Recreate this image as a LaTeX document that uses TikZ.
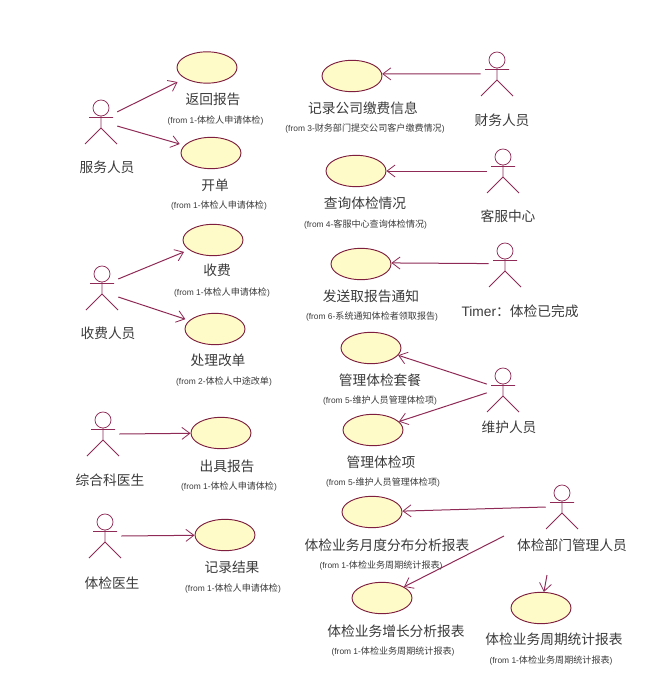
\documentclass[tikz,border=0pt]{standalone}
\usepackage{fontspec}
\setmainfont{Liberation Sans}
\newfontfamily\cjk{Noto Sans CJK SC}
\usetikzlibrary{shapes.geometric,arrows.meta}
\definecolor{umlline}{HTML}{8E2A55}
\definecolor{umledge}{HTML}{7E1F3F}
\definecolor{umlfill}{HTML}{FFFBC8}
\definecolor{labgray}{HTML}{3A3A3A}
\tikzset{
 usecase/.style={ellipse,draw=umledge,fill=umlfill,line width=0.7pt,minimum width=45pt,minimum height=23.5pt,inner sep=0pt},
 actorbox/.style={rectangle,minimum width=24pt,minimum height=33pt,inner sep=0pt},
 actorline/.style={draw=umlline,line width=0.55pt},
 conn/.style={draw=umlline,line width=0.75pt,-{Straight Barb[length=6pt,width=9pt,line width=0.6pt]}},
 biglab/.style={text=labgray,font=\fontsize{10.3}{12}\selectfont\cjk,inner sep=0pt},
 smalllab/.style={text=labgray,font=\fontsize{6.3}{7.5}\selectfont,inner sep=0pt},
}
\newcommand{\umlactor}[3]{%
 \node[actorbox] (#1) at (#2,#3+14) {};
 \begin{scope}[shift={(#2,#3)}]
  \draw[actorline] (0,0) circle[radius=8];
  \draw[actorline] (0,8) -- (0,20) (-12,9.5) -- (12,9.5) (-16,36) -- (0,20) -- (16,36);
 \end{scope}}
\newcommand{\frm}[2]{(from #1-{\cjk\fontsize{6.8}{7.5}\selectfont #2})}
\begin{document}
\begin{tikzpicture}[x=0.75pt,y=-0.75pt]
\useasboundingbox (0,0) rectangle (657,688);
% use cases
\node[usecase] (u1) at (207,67.5) {};
\node[usecase] (u2) at (211,153) {};
\node[usecase] (u3) at (213,240) {};
\node[usecase] (u4) at (215,329) {};
\node[usecase] (u5) at (221,433) {};
\node[usecase] (u6) at (225,535) {};
\node[usecase] (u7) at (352,76) {};
\node[usecase] (u8) at (356,171) {};
\node[usecase] (u9) at (361,264) {};
\node[usecase] (u10) at (371,348) {};
\node[usecase] (u11) at (373,430) {};
\node[usecase] (u12) at (372,512) {};
\node[usecase] (u13) at (382,598) {};
\node[usecase] (u14) at (541,608) {};
% actors
\umlactor{a1}{101}{108}
\umlactor{a2}{102}{274}
\umlactor{a3}{103}{420}
\umlactor{a4}{105}{522}
\umlactor{a5}{497}{60}
\umlactor{a6}{503}{157}
\umlactor{a7}{505}{251}
\umlactor{a8}{503}{376}
\umlactor{a9}{562}{493}
\coordinate (s1) at (504,536);
\coordinate (s2) at (547,575);
% connectors
\draw[conn,shorten >=6pt] (a1.32) -- (u1);
\draw[conn,shorten >=3.5pt] (a1.-14) -- (u2);
\draw[conn,shorten >=4pt] (a2.29) -- (u3);
\draw[conn,shorten >=3pt] (a2.-29) -- (u4);
\draw[conn] (a3.east) -- (u5);
\draw[conn] (a4.east) -- (u6);
\draw[conn] (a5.west) -- (u7.4);
\draw[conn] (a6.west) -- (u8);
\draw[conn] (a7.175) -- (u9.2);
\draw[conn] (a8.160) -- (u10.-15);
\draw[conn] (a8.190) -- (u11.18);
\draw[conn] (a9.west) -- (u12);
\draw[conn] (s1) -- (u13);
\draw[conn] (s2) -- (u14);
% actor labels
\node[biglab] (n1) at (107,167) {服务人员};
\node[biglab] (n2) at (108,333) {收费人员};
\node[biglab] (n3) at (110,480) {综合科医生};
\node[biglab] (n4) at (112,583) {体检医生};
\node[biglab] (n5) at (502,120) {财务人员};
\node[biglab] (n6) at (508,216) {客服中心};
\node[biglab] (n7) at (520,311) {{\rmfamily\fontspec{Liberation Sans}Timer}：体检已完成};
\node[biglab] (n8) at (509,427) {维护人员};
\node[biglab] (n9) at (572,545) {体检部门管理人员};
% use case labels
\node[biglab] (l1) at (213,99) {返回报告};
\node[smalllab] (f1) at (215.5,121) {\frm{1}{体检人申请体检}};
\node[biglab] (l2) at (215,185) {开单};
\node[smalllab] (f2) at (219,206) {\frm{1}{体检人申请体检}};
\node[biglab] (l3) at (217,270) {收费};
\node[smalllab] (f3) at (222,293) {\frm{1}{体检人申请体检}};
\node[biglab] (l4) at (218,360) {处理改单};
\node[smalllab] (f4) at (224,382) {\frm{2}{体检人中途改单}};
\node[biglab] (l5) at (227,466) {出具报告};
\node[smalllab] (f5) at (229,487) {\frm{1}{体检人申请体检}};
\node[biglab] (l6) at (232,567) {记录结果};
\node[smalllab] (f6) at (233,589) {\frm{1}{体检人申请体检}};
\node[biglab] (l7) at (363,108) {记录公司缴费信息};
\node[smalllab] (f7) at (365,129) {\frm{3}{财务部门提交公司客户缴费情况}};
\node[biglab] (l8) at (365,203) {查询体检情况};
\node[smalllab] (f8) at (365.5,225) {\frm{4}{客服中心查询体检情况}};
\node[biglab] (l9) at (371,296) {发送取报告通知};
\node[smalllab] (f9) at (372,317) {\frm{6}{系统通知体检者领取报告}};
\node[biglab] (l10) at (380,380) {管理体检套餐};
\node[smalllab] (f10) at (380,401) {\frm{5}{维护人员管理体检项}};
\node[biglab] (l11) at (381,462) {管理体检项};
\node[smalllab] (f11) at (383,483) {\frm{5}{维护人员管理体检项}};
\node[biglab] (l12) at (387,545) {体检业务月度分布分析报表};
\node[smalllab] (f12) at (381,566) {\frm{1}{体检业务周期统计报表}};
\node[biglab] (l13) at (396,631) {体检业务增长分析报表};
\node[smalllab] (f13) at (393,652) {\frm{1}{体检业务周期统计报表}};
\node[biglab] (l14) at (554,639) {体检业务周期统计报表};
\node[smalllab] (f14) at (551,661) {\frm{1}{体检业务周期统计报表}};
\end{tikzpicture}
\end{document}
